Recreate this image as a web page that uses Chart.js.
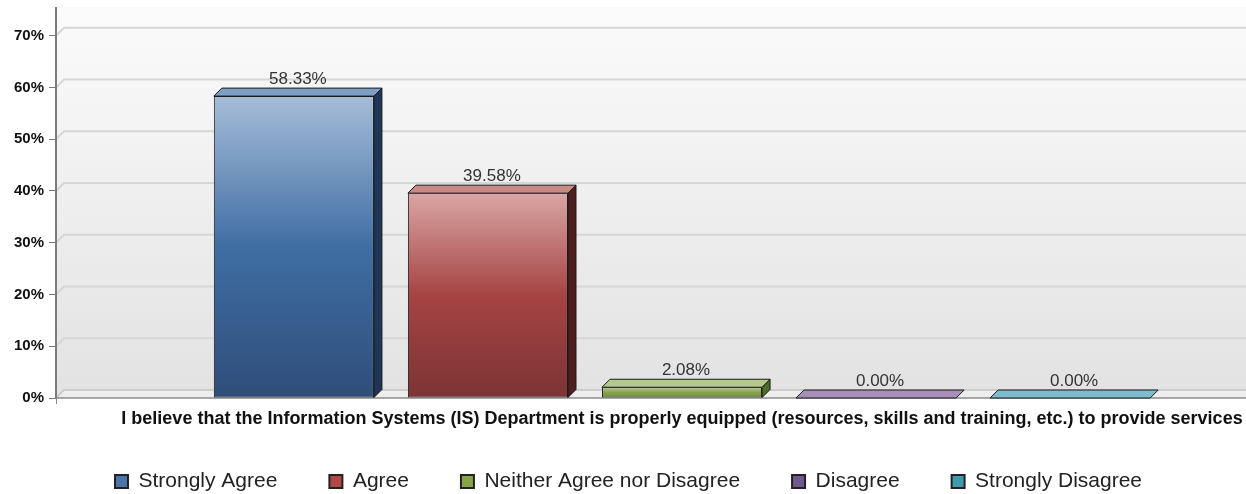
<!DOCTYPE html>
<html>
<head>
<meta charset="utf-8">
<script src="https://cdn.jsdelivr.net/npm/chart.js@4"></script>
<style>
  body { margin: 0; background: #fff; }
</style>
</head>
<body>
<canvas id="chart" width="1246" height="494"></canvas>
<script>
"use strict";

// chart data
var question = "I believe that the Information Systems (IS) Department is properly equipped (resources, skills and training, etc.) to provide services";
var responses = ["Strongly Agree", "Agree", "Neither Agree nor Disagree", "Disagree", "Strongly Disagree"];
var percents = [58.33, 39.58, 2.08, 0.00, 0.00];

// colours for each response: front gradient, top face, side face, legend box
var frontColors = [
  ["#a6bdd8", "#3f6ea4", "#2f4e7a"],
  ["#d9a6a4", "#a64343", "#7b3434"],
  ["#b7cb8f", "#86a34d", "#6f8c3c"],
  ["#b9a6cc", "#7a5f9a", "#5c4678"],
  ["#9ccfdb", "#4a9fb2", "#357c8c"]
];
var topColors = ["#7f9ec4", "#c98985", "#b5c98a", "#a690b9", "#7cbccc"];
var sideColors = ["#1f3657", "#4c1e1e", "#4f6a2a", "#3e2c55", "#245a66"];
var legendColors = ["#4a74aa", "#b04848", "#86a44a", "#71578f", "#3f9aad"];

var depthX = 8, depthY = 8;
var extraRight = 62; // category axis runs past the right edge, like the original
var fontFamily = "'Liberation Sans', Arial, sans-serif";

function frontGradient(context) {
  var chart = context.chart;
  var yScale = chart.scales.y;
  var c = frontColors[context.datasetIndex];
  if (!yScale || !context.parsed) return c[1];
  var top = yScale.getPixelForValue(context.parsed.y);
  var base = yScale.getPixelForValue(0);
  if (base - top < 1) return c[1];
  var g = chart.ctx.createLinearGradient(0, top, 0, base);
  g.addColorStop(0, c[0]);
  g.addColorStop(0.5, c[1]);
  g.addColorStop(1, c[2]);
  return g;
}

// stretch the x axis so the group sits where it does in the original
var shiftPlugin = {
  id: "shiftX",
  afterLayout: function (chart) {
    var x = chart.scales.x;
    x.right = x.right + extraRight;
    x.width = x.right - x.left;
    x.configure();
  }
};

// back wall, grid lines and floor, drawn before the bars
var wallPlugin = {
  id: "wall",
  beforeDatasetsDraw: function (chart) {
    var ctx = chart.ctx;
    var area = chart.chartArea;
    var y = chart.scales.y;
    var left = area.left, right = chart.width, base = y.getPixelForValue(0);
    ctx.save();
    var bg = ctx.createLinearGradient(0, area.top - depthY, 0, base);
    bg.addColorStop(0, "#fbfbfb");
    bg.addColorStop(1, "#e2e2e2");
    ctx.fillStyle = bg;
    ctx.fillRect(left, area.top - depthY, right - left, base - area.top + depthY);

    // grid lines on back wall
    ctx.strokeStyle = "#d6d6d6";
    ctx.lineWidth = 2;
    y.ticks.forEach(function (t) {
      if (t.value === 0) return;
      var py = y.getPixelForValue(t.value);
      ctx.beginPath();
      ctx.moveTo(left, py);
      ctx.lineTo(left + depthX, py - depthY);
      ctx.lineTo(right, py - depthY);
      ctx.stroke();
    });

    // floor
    ctx.fillStyle = "#ededed";
    ctx.beginPath();
    ctx.moveTo(left, base);
    ctx.lineTo(left + depthX, base - depthY);
    ctx.lineTo(right, base - depthY);
    ctx.lineTo(right, base);
    ctx.closePath();
    ctx.fill();
    ctx.strokeStyle = "#c4c4c4";
    ctx.lineWidth = 1.5;
    ctx.beginPath();
    ctx.moveTo(left, base);
    ctx.lineTo(left + depthX, base - depthY);
    ctx.lineTo(right, base - depthY);
    ctx.stroke();
    ctx.strokeStyle = "#8a8a8a";
    ctx.beginPath();
    ctx.moveTo(left, base);
    ctx.lineTo(right, base);
    ctx.stroke();

    // y axis line
    ctx.strokeStyle = "#7a7a7a";
    ctx.lineWidth = 2;
    ctx.beginPath();
    ctx.moveTo(left, area.top - depthY);
    ctx.lineTo(left, base);
    ctx.stroke();
    ctx.restore();
  }
};

// top and side faces plus value labels
var boxPlugin = {
  id: "box3d",
  afterDatasetsDraw: function (chart) {
    var ctx = chart.ctx;
    ctx.save();
    ctx.strokeStyle = "#1a1a1a";
    ctx.lineWidth = 1;
    ctx.lineJoin = "round";
    chart.data.datasets.forEach(function (ds, i) {
      var meta = chart.getDatasetMeta(i);
      if (meta.hidden) return;
      meta.data.forEach(function (bar, j) {
        var x0 = bar.x - bar.width / 2;
        var x1 = bar.x + bar.width / 2;
        var top = bar.y;
        var base = bar.base;
        // side
        if (base - top >= 1) {
          ctx.fillStyle = sideColors[i];
          ctx.beginPath();
          ctx.moveTo(x1, top);
          ctx.lineTo(x1 + depthX, top - depthY);
          ctx.lineTo(x1 + depthX, base - depthY);
          ctx.lineTo(x1, base);
          ctx.closePath();
          ctx.fill();
          ctx.stroke();
        }
        // top
        ctx.fillStyle = topColors[i];
        ctx.beginPath();
        ctx.moveTo(x0, top);
        ctx.lineTo(x0 + depthX, top - depthY);
        ctx.lineTo(x1 + depthX, top - depthY);
        ctx.lineTo(x1, top);
        ctx.closePath();
        ctx.fill();
        ctx.stroke();

        // value label
        ctx.fillStyle = "#333333";
        ctx.font = "17px " + fontFamily;
        ctx.textAlign = "center";
        ctx.textBaseline = "bottom";
        ctx.fillText(ds.data[j].toFixed(2) + "%", bar.x + depthX / 2, top - depthY);
      });
    });
    ctx.restore();
  }
};

var datasets = responses.map(function (name, i) {
  return {
    label: name,
    data: [percents[i]],
    backgroundColor: frontGradient,
    borderColor: "#1a1a1a",
    borderWidth: 1,
    borderSkipped: false
  };
});

var myChart = new Chart(document.getElementById("chart"), {
  type: "bar",
  data: {
    labels: [question],
    datasets: datasets
  },
  plugins: [shiftPlugin, wallPlugin, boxPlugin],
  options: {
    responsive: false,
    animation: false,
    categoryPercentage: 0.775,
    barPercentage: 0.825,
    layout: {
      padding: { left: 11, right: 0, top: 15, bottom: 2 }
    },
    plugins: {
      tooltip: { enabled: false },
      legend: {
        position: "bottom",
        maxHeight: 73,
        labels: {
          boxWidth: 13,
          boxHeight: 13,
          padding: 52,
          color: "#222",
          font: { family: fontFamily, size: 21 },
          generateLabels: function (chart) {
            return chart.data.datasets.map(function (ds, i) {
              return {
                text: ds.label,
                fillStyle: legendColors[i],
                strokeStyle: "#222",
                lineWidth: 2,
                hidden: !chart.isDatasetVisible(i),
                datasetIndex: i,
                fontColor: "#222"
              };
            });
          }
        }
      }
    },
    scales: {
      x: {
        afterFit: function (scale) { scale.height = 21; },
        grid: {
          display: true,
          drawOnChartArea: false,
          drawTicks: true,
          tickLength: 6,
          color: "#888"
        },
        border: { display: false },
        ticks: { display: false },
        title: {
          display: true,
          text: question,
          color: "#111",
          padding: { top: 0, bottom: -11 },
          font: { family: fontFamily, size: 18, weight: "bold" }
        }
      },
      y: {
        min: 0,
        max: 74,
        afterFit: function (scale) { scale.width = 45; },
        grid: {
          display: true,
          drawOnChartArea: false,
          drawTicks: true,
          tickLength: 7,
          color: "#777"
        },
        border: { display: false },
        ticks: {
          stepSize: 10,
          includeBounds: false,
          padding: 5,
          color: "#111",
          font: { family: fontFamily, size: 15, weight: "bold" },
          callback: function (v) { return v + "%"; }
        }
      }
    }
  }
});
</script>
</body>
</html>
